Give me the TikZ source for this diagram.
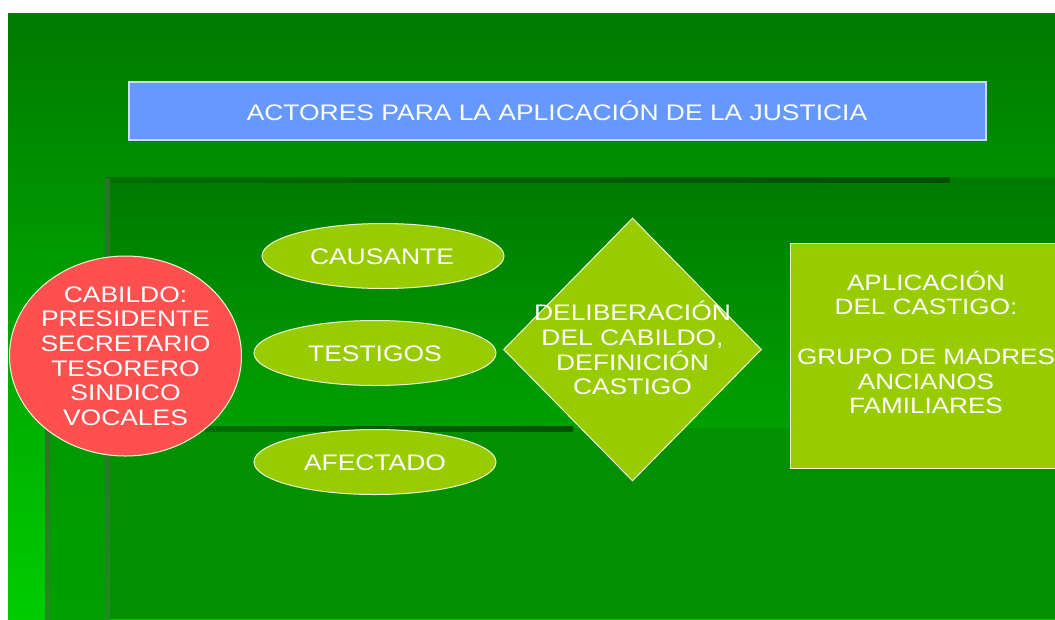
\documentclass[tikz,border=0pt]{standalone}
\usepackage{fontspec}
\setmainfont[FakeStretch=1.175]{Liberation Sans}
\usetikzlibrary{shapes.geometric}
\definecolor{bgtop}{HTML}{007A00}
\definecolor{bgmid}{HTML}{009900}
\definecolor{bgbot}{HTML}{00CC00}
\definecolor{panelbot}{HTML}{00A000}
\definecolor{lowmain}{HTML}{009000}
\definecolor{lowside}{HTML}{00A000}
\definecolor{sidecol}{HTML}{2A742A}
\definecolor{sidefade}{HTML}{1E8C1E}
\definecolor{darkbar}{HTML}{005000}
\definecolor{barleft}{HTML}{006E00}
\definecolor{lime}{HTML}{99CC00}
\definecolor{titleblue}{HTML}{6699FF}
\definecolor{coral}{HTML}{FF5050}
\tikzset{
  x=1pt,y=-1pt,
  shapeline/.style={draw=white!85!lime,line width=1pt},
  label text/.style={text=white,font=\fontsize{22.5}{24.7}\selectfont,align=center,inner sep=0pt},
  limeoval/.style={ellipse,shapeline,fill=lime,minimum width=242pt,minimum height=65pt,inner sep=0pt},
  bar/.style={left color=barleft,right color=darkbar,draw=none}
}
\begin{document}
\begin{tikzpicture}
\useasboundingbox (0,0) rectangle (1055,619);
\fill[white] (0,0) rectangle (1055,619);
% background layers
\fill[top color=bgtop,bottom color=bgmid] (8,13) rectangle (1055,250);
\fill[top color=bgmid,bottom color=bgbot] (8,250) rectangle (1055,619);
\fill[top color=bgtop,bottom color=panelbot] (105,177) rectangle (1055,428);
\fill[top color=bgmid,bottom color=lowside] (47,428) rectangle (105,619);
\fill[lowmain] (105,428) rectangle (1055,619);
\fill[bar] (107,177) rectangle (950,182);
\fill[sidecol] (105,178) rectangle (110,428);
\fill[bar] (205,426) rectangle (573,431);
\fill[top color=sidecol,bottom color=sidefade] (105,428) rectangle (110,619);
\fill[top color=sidecol,bottom color=sidefade] (45,428) rectangle (50,619);
% shapes
\node[draw=white!65!titleblue,line width=1.2pt,fill=titleblue,minimum width=857pt,minimum height=58pt,inner sep=0pt] (title) at (557.5,111) {};
\node[label text] (titletext) at (557,111) {ACTORES PARA LA APLICACIÓN DE LA JUSTICIA};
\node[ellipse,shapeline,fill=coral,minimum width=232pt,minimum height=200pt,inner sep=0pt] (cabildo) at (125.5,356) {};
\node[label text] (cabildotext) at (125.5,356) {CABILDO:\\PRESIDENTE\\SECRETARIO\\TESORERO\\SINDICO\\VOCALES};
\node[limeoval] (causante) at (383,256) {};
\node[label text] (causantetext) at (382,257) {CAUSANTE};
\node[limeoval] (testigos) at (375,353) {};
\node[label text] (testigostext) at (375,354) {TESTIGOS};
\node[limeoval] (afectado) at (375,462) {};
\node[label text] (afectadotext) at (375,463) {AFECTADO};
\node[diamond,shapeline,fill=lime,minimum width=258pt,minimum height=263pt,aspect=0.98,inner sep=0pt] (delib) at (632.5,349.5) {};
\node[label text] (delibtext) at (632.5,348) {DELIBERACIÓN\\DEL CABILDO,\\DEFINICIÓN\\CASTIGO};
\fill[lime,draw=white!85!lime,line width=1pt] (790,243.5) -- (1056,243.5) -- (1056,468.5) -- (790,468.5) -- cycle;
\node[label text,font=\fontsize{22.2}{24.7}\selectfont] (castigo) at (926,342.5) {APLICACIÓN\\DEL CASTIGO:\\[24.7pt]GRUPO DE MADRES\\ANCIANOS\\FAMILIARES};
\end{tikzpicture}
\end{document}
